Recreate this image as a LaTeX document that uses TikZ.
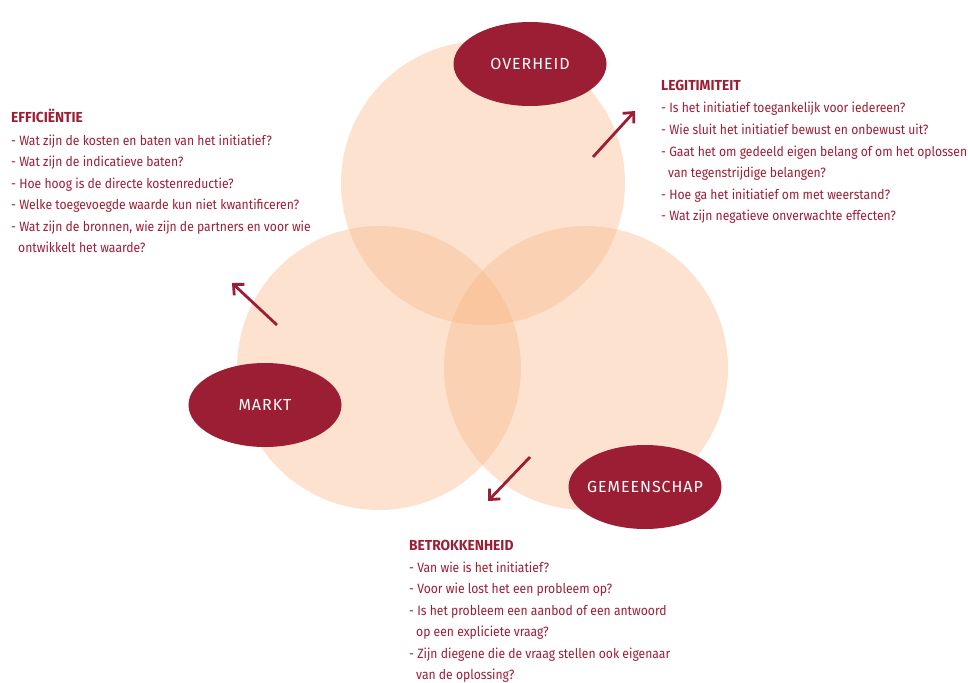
\documentclass[tikz,border=0pt]{standalone}
\usepackage{fontspec}
\setmainfont{Fira Sans}[FakeStretch=0.9]
\newfontfamily\headfont{Fira Sans}[FakeStretch=0.95]
\newfontfamily\labelfont{Fira Sans}[LetterSpace=6]
\usetikzlibrary{arrows.meta,shapes.geometric}
\definecolor{wine}{RGB}{155,30,53}
\definecolor{peach}{RGB}{247,180,130}
\tikzset{
  ringbox/.style={circle, fill=peach, fill opacity=0.38, minimum size=284pt, inner sep=0pt},
  sectorbox/.style={ellipse, fill=wine, minimum width=153pt, minimum height=84pt, text=white,
    font=\labelfont\fontsize{16}{18}\selectfont, inner ysep=0pt, inner xsep=-10pt},
  headtext/.style={anchor=base west, text=wine, inner sep=0pt, font=\headfont\fontsize{14.5}{16}\selectfont\bfseries},
  qtext/.style={anchor=base west, text=wine, inner sep=0pt, font=\fontsize{13.5}{15}\selectfont},
  pointer/.style={draw=wine, line width=2.8pt, -{Straight Barb[length=8pt,width=15pt,line width=2.8pt]}}
}
\begin{document}
\begin{tikzpicture}[x=1pt,y=-1pt]
\useasboundingbox (0,0) rectangle (968,682);
% circles
\node[ringbox] (cTop) at (483,183) {};
\node[ringbox] (cLeft) at (379,368) {};
\node[ringbox] (cRight) at (586,368) {};
% ellipses
\node[sectorbox] (overheid) at (530,64) {OVERHEID};
\node[sectorbox] (markt) at (265,405) {MARKT};
\node[sectorbox] (gemeenschap) at (645,487) {GEMEENSCHAP};
% arrows
\coordinate (aTs) at (593,157); \coordinate (aTe) at (635,111);
\coordinate (aLs) at (277,325); \coordinate (aLe) at (232,283);
\coordinate (aBs) at (530,457); \coordinate (aBe) at (488,501);
\draw[pointer] (aTs) -- (aTe);
\draw[pointer] (aLs) -- (aLe);
\draw[pointer] (aBs) -- (aBe);
% EFFICIENTIE
\node[headtext] (effT) at (11,122) {EFFICIËNTIE};
\node[qtext] (eff1) at (11,145) {- Wat zijn de kosten en baten van het initiatief?};
\node[qtext] (eff2) at (11,166.5) {- Wat zijn de indicatieve baten?};
\node[qtext] (eff3) at (11,188) {- Hoe hoog is de directe kostenreductie?};
\node[qtext] (eff4) at (11,209.5) {- Welke toegevoegde waarde kun niet kwantificeren?};
\node[qtext] (eff5) at (11,231) {- Wat zijn de bronnen, wie zijn de partners en voor wie};
\node[qtext] (eff6) at (18,252.5) {ontwikkelt het waarde?};
% LEGITIMITEIT
\node[headtext] (legT) at (661,91) {LEGITIMITEIT};
\node[qtext] (leg1) at (661,113) {- Is het initiatief toegankelijk voor iedereen?};
\node[qtext] (leg2) at (661,134.5) {- Wie sluit het initiatief bewust en onbewust uit?};
\node[qtext] (leg3) at (661,156) {- Gaat het om gedeeld eigen belang of om het oplossen};
\node[qtext] (leg4) at (668,177.5) {van tegenstrijdige belangen?};
\node[qtext] (leg5) at (661,199) {- Hoe ga het initiatief om met weerstand?};
\node[qtext] (leg6) at (661,220.5) {- Wat zijn negatieve onverwachte effecten?};
% BETROKKENHEID
\node[headtext] (betT) at (409,550) {BETROKKENHEID};
\node[qtext] (bet1) at (409,572) {- Van wie is het initiatief?};
\node[qtext] (bet2) at (409,593.5) {- Voor wie lost het een probleem op?};
\node[qtext] (bet3) at (409,615) {- Is het probleem een aanbod of een antwoord};
\node[qtext] (bet4) at (416,636.5) {op een expliciete vraag?};
\node[qtext] (bet5) at (409,658) {- Zijn diegene die de vraag stellen ook eigenaar};
\node[qtext] (bet6) at (416,679.5) {van de oplossing?};
\end{tikzpicture}
\end{document}
